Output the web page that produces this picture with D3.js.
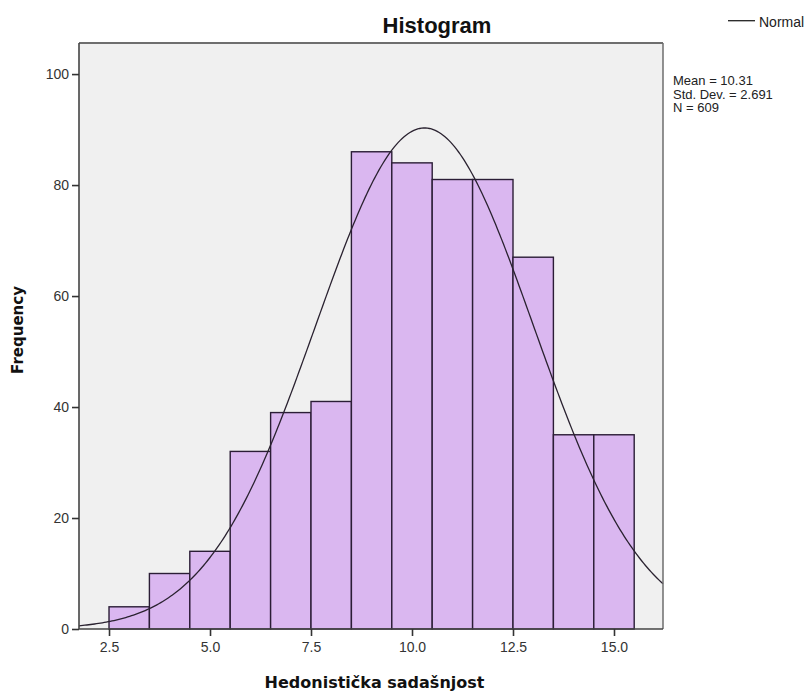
<!DOCTYPE html>
<html>
<head>
<meta charset="utf-8">
<script src="https://cdn.jsdelivr.net/npm/d3@7"></script>
<style>
  html, body { margin: 0; padding: 0; background: #fff; }
  svg { display: block; }
</style>
</head>
<body>
<svg id="chart" width="809" height="695"></svg>
<script>
// ---- data ----
const binStarts = [2.5, 3.5, 4.5, 5.5, 6.5, 7.5, 8.5, 9.5, 10.5, 11.5, 12.5, 13.5, 14.5];
const frequencies = [4, 10, 14, 32, 39, 41, 86, 84, 81, 81, 67, 35, 35];
const binWidth = 1;
const xTicks = [2.5, 5.0, 7.5, 10.0, 12.5, 15.0];
const yTicks = [0, 20, 40, 60, 80, 100];
const stats = { mean: 10.31, sd: 2.691, n: 609 };
const statLines = ["Mean = 10.31", "Std. Dev. = 2.691", "N = 609"];
const title = "Histogram";
const xLabel = "Hedonistička sadašnjost";
const yLabel = "Frequency";
const legendLabel = "Normal";

// ---- layout ----
const L = 79, R = 663, T = 43, B = 629;
const svg = d3.select("#chart");

const x = d3.scaleLinear().domain([1.757, 16.213]).range([L, R]);
const y = d3.scaleLinear().domain([0, 105.6]).range([B, T]);

// plot background
svg.append("rect").attr("x", L).attr("y", T).attr("width", R - L).attr("height", B - T)
  .attr("fill", "#f0f0f0");

// bars
svg.append("g").selectAll("rect").data(binStarts).join("rect")
  .attr("x", (d) => x(d))
  .attr("y", (d, i) => y(frequencies[i]))
  .attr("width", (d) => x(d + binWidth) - x(d))
  .attr("height", (d, i) => y(0) - y(frequencies[i]))
  .attr("fill", "#dab7f0")
  .attr("stroke", "#2b1d36")
  .attr("stroke-width", 1.4);

// normal curve
const pdf = (v) => Math.exp(-0.5 * Math.pow((v - stats.mean) / stats.sd, 2)) / (stats.sd * Math.sqrt(2 * Math.PI));
const xs = d3.range(0, 301).map((i) => x.domain()[0] + (x.domain()[1] - x.domain()[0]) * i / 300);
const line = d3.line().x((v) => x(v)).y((v) => y(stats.n * binWidth * pdf(v)));
svg.append("path").datum(xs).attr("d", line)
  .attr("fill", "none").attr("stroke", "#2a2230").attr("stroke-width", 1.3);

// frame
svg.append("line").attr("x1", L).attr("x2", R).attr("y1", T).attr("y2", T).attr("stroke", "#6e6e6e").attr("stroke-width", 2);
svg.append("line").attr("x1", R).attr("x2", R).attr("y1", T).attr("y2", B).attr("stroke", "#6e6e6e").attr("stroke-width", 1.5);

// axes
const yAxis = d3.axisLeft(y).tickValues(yTicks).tickSize(7).tickPadding(3).tickFormat(d3.format("d"));
const gy = svg.append("g").attr("transform", `translate(${L},0)`).call(yAxis);
gy.select(".domain").attr("d", `M0,${T}V${B}`).attr("stroke", "#444").attr("stroke-width", 1.6);
gy.selectAll(".tick line").attr("stroke", "#333").attr("stroke-width", 1.6);
gy.selectAll("text").attr("font-family", "Liberation Sans, Arial, sans-serif").attr("font-size", 14).attr("fill", "#333");

const xAxis = d3.axisBottom(x).tickValues(xTicks).tickSize(7).tickPadding(6).tickFormat(d3.format(".1f"));
const gx = svg.append("g").attr("transform", `translate(0,${B})`).call(xAxis);
gx.select(".domain").attr("d", `M${L},0H${R}`).attr("stroke", "#444").attr("stroke-width", 1.6);
gx.selectAll(".tick line").attr("stroke", "#333").attr("stroke-width", 1.6);
gx.selectAll("text").attr("font-family", "Liberation Sans, Arial, sans-serif").attr("font-size", 14).attr("fill", "#333");

// title
svg.append("text").attr("x", 437).attr("y", 33).attr("text-anchor", "middle")
  .attr("font-family", "Liberation Sans, Arial, sans-serif").attr("font-weight", "bold").attr("font-size", 22)
  .attr("fill", "#111").text(title);

// axis labels
svg.append("text").attr("x", 374.5).attr("y", 688).attr("text-anchor", "middle")
  .attr("font-family", "DejaVu Sans, sans-serif").attr("font-weight", "bold").attr("font-size", 16)
  .attr("fill", "#111").text(xLabel);
svg.append("text").attr("transform", "translate(23,330) rotate(-90)").attr("text-anchor", "middle")
  .attr("font-family", "DejaVu Sans, sans-serif").attr("font-weight", "bold").attr("font-size", 15)
  .attr("fill", "#111").text(yLabel);

// legend
svg.append("line").attr("x1", 728).attr("x2", 755).attr("y1", 20.7).attr("y2", 20.7)
  .attr("stroke", "#222").attr("stroke-width", 1.3);
svg.append("text").attr("x", 759).attr("y", 26.5)
  .attr("font-family", "Liberation Sans, Arial, sans-serif").attr("font-size", 14).attr("fill", "#222").text(legendLabel);

// stats
svg.append("g").selectAll("text").data(statLines).join("text")
  .attr("x", 673).attr("y", (d, i) => 85 + i * 13.5)
  .attr("font-family", "Liberation Sans, Arial, sans-serif").attr("font-size", 13).attr("fill", "#222")
  .text((d) => d);
</script>
</body>
</html>
